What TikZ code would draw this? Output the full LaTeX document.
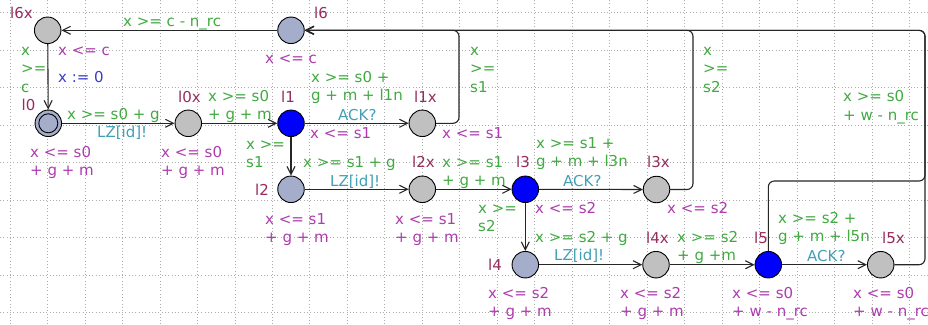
\documentclass[tikz,border=0pt]{standalone}
\usepackage{fontspec}
\setmainfont{DejaVu Sans}
\usetikzlibrary{arrows.meta}
\definecolor{locgray}{RGB}{192,192,192}
\definecolor{locblue}{RGB}{0,0,255}
\definecolor{locslate}{RGB}{164,174,202}
\definecolor{namecol}{RGB}{150,45,95}
\definecolor{invcol}{RGB}{175,60,175}
\definecolor{guardcol}{RGB}{65,170,65}
\definecolor{synccol}{RGB}{65,160,180}
\definecolor{updcol}{RGB}{60,60,200}
\tikzset{
loc/.style={circle,draw=black,line width=0.9pt,minimum size=26.5pt,inner sep=0pt},
midloc/.style={loc,fill=locgray},
waitloc/.style={loc,fill=locslate},
ackloc/.style={loc,fill=locblue},
gridline/.style={gray!65,line width=0.6pt,dash pattern=on 0.9pt off 2.4pt},
trans/.style={black!85,line width=1.1pt,-{Straight Barb[length=8pt,width=8pt]}},
nailed/.style={rounded corners=6pt},
% base west = baseline of the last line
txt/.style={inner sep=0pt,anchor=base west,align=left,font=\fontsize{15}{18.5}\selectfont},
lname/.style={txt,text=namecol},
inv/.style={txt,text=invcol},
guard/.style={txt,text=guardcol},
sync/.style={txt,text=synccol},
upd/.style={txt,text=updcol}
}
\begin{document}
\begin{tikzpicture}[x=1pt,y=-1pt]
\useasboundingbox (0,0) rectangle (928,324);
\fill[white] (0,0) rectangle (928,324);
\foreach \i in {0,...,24}
  \draw[gridline] (10+37.47*\i,0) -- (10+37.47*\i,324);
\foreach \j in {0,...,8}
  \draw[gridline] (0,12.3+37.5*\j) -- (928,12.3+37.5*\j);

% locations
\node[midloc] (l6x) at (47.7,30.3) {};
\node[waitloc] (l6) at (291,30.3) {};
\node[waitloc] (l0) at (48.3,123.3) {};
\draw[line width=0.9pt] (l0.center) circle[radius=9.5];
\node[midloc] (l0x) at (188.3,123.3) {};
\node[ackloc] (l1) at (291,123.3) {};
\node[midloc] (l1x) at (422.3,123.3) {};
\node[waitloc] (l2) at (291,189.3) {};
\node[midloc] (l2x) at (422.3,189.3) {};
\node[ackloc] (l3) at (525.3,189.3) {};
\node[midloc] (l3x) at (656.5,189.5) {};
\node[waitloc] (l4) at (525.3,264.7) {};
\node[midloc] (l4x) at (656,264.7) {};
\node[ackloc] (l5) at (768.3,264.7) {};
\node[midloc] (l5x) at (880.7,264.7) {};

\node[lname] (n6x) at (10,18.5) {l6x};
\node[lname] (n6) at (314,18) {l6};
\node[lname] (n0) at (21.5,110) {l0};
\node[lname] (n0x) at (178,102) {l0x};
\node[lname] (n1) at (281,102) {l1};
\node[lname] (n1x) at (414,102) {l1x};
\node[lname] (n2) at (255,195) {l2};
\node[lname] (n2x) at (412,167) {l2x};
\node[lname] (n3) at (516,167) {l3};
\node[lname] (n3x) at (647,167) {l3x};
\node[lname] (n4) at (488,270) {l4};
\node[lname] (n4x) at (646,243) {l4x};
\node[lname] (n5) at (754,243) {l5};
\node[lname] (n5x) at (882,243) {l5x};

% invariants
\node[inv] (i6x) at (58,55) {x <= c};
\node[inv] (i6) at (265,63) {x <= c};
\node[inv] (i0) at (30,175.5) {x <= s0\\+ g + m};
\node[inv] (i0x) at (161,175.5) {x <= s0\\+ g + m};
\node[inv] (i1) at (310,138) {x <= s1};
\node[inv] (i1x) at (442,138) {x <= s1};
\node[inv] (i2) at (265,242.5) {x <= s1\\+ g + m};
\node[inv] (i2x) at (395,242.5) {x <= s1\\+ g + m};
\node[inv] (i3) at (535,213) {x <= s2};
\node[inv] (i3x) at (667,213) {x <= s2};
\node[inv] (i4) at (488,316.5) {x <= s2\\+ g + m};
\node[inv] (i4x) at (620,316.5) {x <= s2\\+ g + m};
\node[inv] (i5) at (732,316.5) {x <= s0\\+ w - n\_rc};
\node[inv] (i5x) at (853,316.5) {x <= s0\\+ w - n\_rc};

% transitions
\coordinate (k1) at (459,30.3);
\coordinate (k3) at (693,30.3);
\coordinate (k5) at (925,30.3);
\coordinate (k5b) at (925,181);
\draw[trans] (l6) -- (l6x);
\draw[trans] (l6x) -- (l0);
\draw[trans] (l0) -- (l0x);
\draw[trans] (l0x) -- (l1);
\draw[trans] (l1) -- (l1x);
\draw[trans] (l1) -- (l2);
\draw[trans] (l2) -- (l2x);
\draw[trans] (l2x) -- (l3);
\draw[trans] (l3) -- (l3x);
\draw[trans] (l3) -- (l4);
\draw[trans] (l4) -- (l4x);
\draw[trans] (l4x) -- (l5);
\draw[trans] (l5) -- (l5x);
\draw[trans,nailed] (l1x) -| (k1) -- (l6);
\draw[trans,nailed] (l3x) -| (k3) -- (l6);
\draw[trans,nailed] (l5x) -| (k5) -- (l6);
\draw[trans,nailed] (l5) |- (k5b) -- (k5) -- (l6);

\node[guard] (g66x) at (123,26.7) {x >= c - n\_rc};
\node[guard] (g6x0) at (21,92) {x\\>=\\c};
\node[upd] (u6x0) at (58,82) {x := 0};
\node[guard] (g00x) at (67,119) {x >= s0 + g};
\node[sync] (s00x) at (97,137.5) {LZ[id]!};
\node[guard] (g0x1) at (208,119.5) {x >= s0\\+ g + m};
\node[guard] (g11x) at (311,100.5) {x >= s0 +\\g + m + l1n};
\node[sync] (s11x) at (338,120) {ACK?};
\node[guard] (g1x6) at (470,92) {x\\>=\\s1};
\node[guard] (g12) at (246,167.5) {x >=\\s1};
\node[guard] (g22x) at (303,167) {x >= s1 + g};
\node[sync] (s22x) at (330,186) {LZ[id]!};
\node[guard] (g2x3) at (442,185.5) {x >= s1\\+ g + m};
\node[guard] (g33x) at (536,166.5) {x >= s1 +\\g + m + l3n};
\node[sync] (s33x) at (563,186) {ACK?};
\node[guard] (g3x6) at (703,92) {x\\>=\\s2};
\node[guard] (g34) at (478,231.5) {x >=\\s2};
\node[guard] (g44x) at (535,242) {x >= s2 + g};
\node[sync] (s44x) at (554,260.5) {LZ[id]!};
\node[guard] (g4x5) at (677,260.5) {x >= s2\\+ g +m};
\node[guard] (g55x) at (778,241.5) {x >= s2 +\\g + m + l5n};
\node[sync] (s55x) at (807,261) {ACK?};
\node[guard] (g56) at (843,120) {x >= s0\\+ w - n\_rc};
\end{tikzpicture}
\end{document}
